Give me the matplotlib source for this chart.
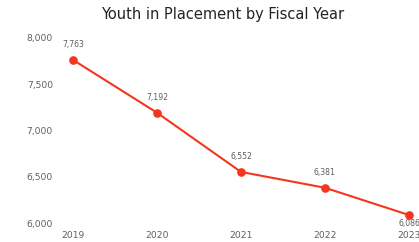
import matplotlib.pyplot as plt

# data
years = [2019, 2020, 2021, 2022, 2023]
youth = [7763, 7192, 6552, 6381, 6086]
yticks = [6000, 6500, 7000, 7500, 8000]

W, H = 419, 242
fig = plt.figure(figsize=(W / 100, H / 100), dpi=100)
# axes runs past the right edge, the source image is cropped there
ax = fig.add_axes([55 / W, (H - 228) / H, (440 - 55) / W, (228 - 30) / H])

line_col = '#f5361f'
txt_col = '#605e5c'

ax.plot(years, youth, color=line_col, lw=1.5, marker='o', ms=5.2, clip_on=False)

for i, (x, y) in enumerate(zip(years, youth)):
    lab = '{:,}'.format(y)
    off = -5.8 if i == len(years) - 1 else 10.8
    ax.annotate(lab, (x, y), xytext=(0, off), textcoords='offset points',
                ha='center', va='center', fontsize=5.6, color=txt_col)

ax.set_xlim(2018.786, 2023.369)
ax.set_ylim(5946, 8086)
ax.set_xticks(years)
ax.set_xticklabels([str(y) for y in years])
ax.set_yticks(yticks)
ax.set_yticklabels(['{:,}'.format(v) for v in yticks])
ax.tick_params(length=0, labelsize=6.6, colors=txt_col, pad=2)
ax.tick_params(axis='y', pad=1.5)
for s in ax.spines.values():
    s.set_visible(False)

fig.text(223 / W, 1 - 15 / H, 'Youth in Placement by Fiscal Year', ha='center', va='center',
         fontsize=10.5, color='#252423')

fig.savefig('out.png', dpi=100)
